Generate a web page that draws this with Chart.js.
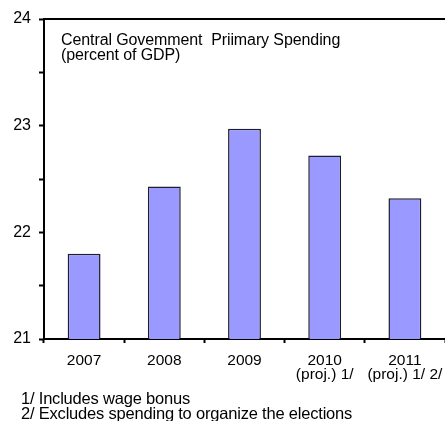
<!DOCTYPE html>
<html>
<head>
<meta charset="utf-8">
<script src="https://cdn.jsdelivr.net/npm/chart.js@4/dist/chart.umd.min.js"></script>
<style>
  html, body { margin: 0; padding: 0; background: #fff; overflow: hidden; }
  #wrap { position: relative; width: 445px; height: 421px; overflow: hidden; font-family: "Liberation Sans", Arial, sans-serif; color: #000; }
  #c { position: absolute; left: 0; top: 0; }
  .note { position: absolute; white-space: nowrap; }
  #title { left: 61px; top: 32px; font-size: 16px; line-height: 15px; letter-spacing: -0.1px; }
  .foot { left: 21px; font-size: 16.5px; line-height: 15px; letter-spacing: -0.2px; }
</style>
</head>
<body>
<div id="wrap">
  <canvas id="c" width="445" height="421"></canvas>
  <div class="note" id="title">Central Govemment&nbsp; Priimary Spending<br>(percent of GDP)</div>
  <div class="note foot" style="top:391px;">1/ Includes wage bonus</div>
  <div class="note foot" style="top:406px;">2/ Excludes spending to organize the elections</div>
</div>
<script>
// Central government primary spending, percent of GDP
const years = [
  ['2007'],
  ['2008'],
  ['2009'],
  ['2010', '(proj.) 1/'],
  ['2011', '(proj.) 1/ 2/']
];
const spending = [21.8, 22.43, 22.97, 22.72, 22.32];
const yMin = 21;
const yMax = 24;
const yStep = 0.5;

// top frame line of the plot area
const topFrame = {
  id: 'topFrame',
  afterDraw(chart) {
    const { ctx, chartArea } = chart;
    ctx.save();
    ctx.strokeStyle = '#000';
    ctx.lineWidth = 2;
    ctx.beginPath();
    ctx.moveTo(chartArea.left, chartArea.top);
    ctx.lineTo(chartArea.right, chartArea.top);
    ctx.stroke();
    ctx.restore();
  }
};

new Chart(document.getElementById('c'), {
  type: 'bar',
  data: {
    labels: years,
    datasets: [{
      data: spending,
      backgroundColor: '#9999ff',
      borderColor: '#1e1e30',
      borderWidth: 1.5,
      borderSkipped: 'bottom',
      barPercentage: 0.41,
      categoryPercentage: 1
    }]
  },
  plugins: [topFrame],
  options: {
    responsive: false,
    animation: false,
    layout: { padding: { top: 19, right: 0, left: 0, bottom: 0 } },
    plugins: { legend: { display: false }, tooltip: { enabled: false } },
    scales: {
      x: {
        offset: true,
        grid: { offset: true, drawOnChartArea: false, tickLength: 4, tickColor: '#000', tickWidth: 2 },
        border: { color: '#000', width: 2 },
        ticks: {
          color: '#000',
          padding: 10,
          maxRotation: 0,
          autoSkip: false,
          font: { family: '"Liberation Sans", Arial, sans-serif', size: 15.5, lineHeight: 0.95 }
        },
        afterFit(scale) {
          scale.height = 82;
          scale.paddingLeft = 0;
          scale.paddingRight = 0;
        }
      },
      y: {
        min: yMin,
        max: yMax,
        grid: { drawOnChartArea: false, tickLength: 5, tickColor: '#000', tickWidth: 2 },
        border: { color: '#000', width: 2 },
        ticks: {
          stepSize: yStep,
          color: '#000',
          padding: 8,
          font: { family: '"Liberation Sans", Arial, sans-serif', size: 16 },
          callback: v => Number.isInteger(v) ? String(v) : ''
        },
        afterFit(scale) {
          scale.width = 44;
          scale.paddingTop = 0;
          scale.paddingBottom = 0;
        }
      }
    }
  }
});
</script>
</body>
</html>
